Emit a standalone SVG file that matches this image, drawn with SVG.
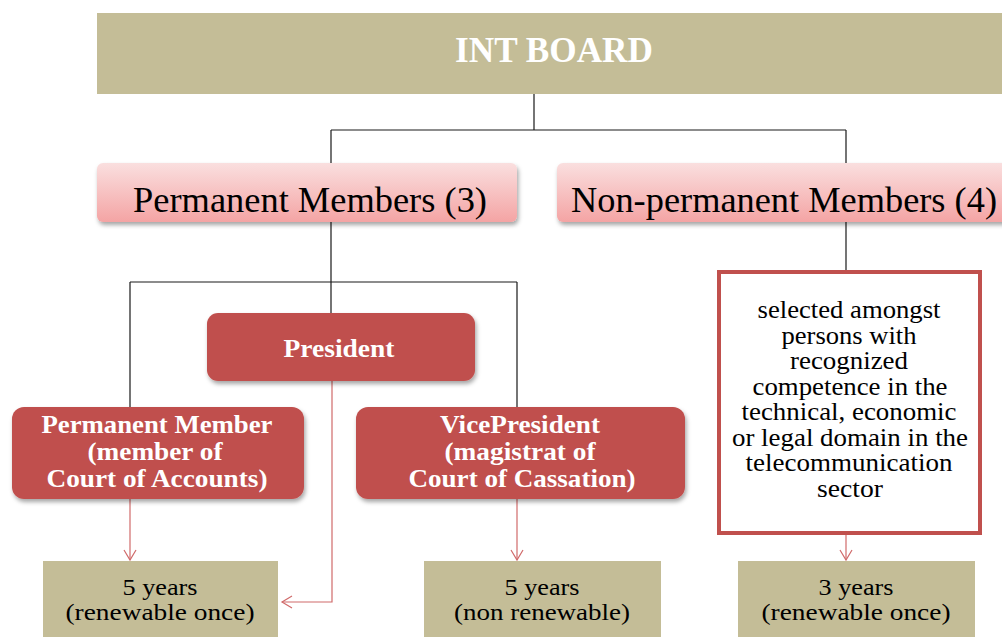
<svg xmlns="http://www.w3.org/2000/svg" width="1002" height="637" viewBox="0 0 1002 637">
<defs>
<linearGradient id="pink" x1="0" y1="0" x2="0" y2="1">
<stop offset="0" stop-color="#FADFDF"/>
<stop offset="1" stop-color="#F4A4A4"/>
</linearGradient>
<filter id="sh" x="-10%" y="-20%" width="120%" height="150%">
<feDropShadow dx="1.5" dy="3" stdDeviation="2" flood-color="#000" flood-opacity="0.35"/>
</filter>
<marker id="arr" markerWidth="14" markerHeight="14" refX="12" refY="7" orient="auto" markerUnits="userSpaceOnUse">
<path d="M2,1 L12,7 L2,13" fill="none" stroke="#D06A6A" stroke-width="1.2"/>
</marker>
<style>
.tan{fill:#C4BD97}
.pink{fill:url(#pink);filter:url(#sh)}
.red{fill:#C0504D;filter:url(#sh)}
.blk{fill:none;stroke:#1a1a1a;stroke-width:1.2}
.rl{fill:none;stroke:#D06A6A;stroke-width:1.2;marker-end:url(#arr)}
.serif{font-family:"Liberation Serif","Times New Roman",serif;text-anchor:middle}
.big{font-size:36px;fill:#000}
.wb{font-size:25px;font-weight:bold;fill:#fff}
.note{font-size:25px;fill:#000}
.yr{font-size:24px;fill:#000}
</style>
</defs>
<rect width="1002" height="637" fill="#fff"/>

<g id="connectors">
<path class="blk" d="M534,94 V130 M331,130 H846 M331,130 V163 M846,130 V163"/>
<path class="blk" d="M331,222 V313 M130,282 H517 M130,282 V407 M517,282 V407"/>
<path class="blk" d="M846,222 V270"/>
<path class="rl" d="M130,499 V560"/>
<path class="rl" d="M332,381 V602 H282"/>
<path class="rl" d="M517,499 V560"/>
<path class="rl" d="M846,535 V560"/>
</g>

<g id="int-board">
<rect class="tan" x="97" y="13" width="910" height="81"/>
<text class="serif" x="554" y="62" font-size="35" font-weight="bold" fill="#fff" textLength="198" lengthAdjust="spacingAndGlyphs">INT BOARD</text>
</g>

<g id="permanent-members">
<rect class="pink" x="97" y="163" width="420" height="59" rx="6"/>
<text class="serif big" x="310" y="212" textLength="354" lengthAdjust="spacingAndGlyphs">Permanent Members (3)</text>
</g>

<g id="non-permanent-members">
<rect class="pink" x="557" y="163" width="460" height="59" rx="6"/>
<text class="serif big" x="784" y="212" textLength="426" lengthAdjust="spacingAndGlyphs">Non-permanent Members (4)</text>
</g>

<g id="president">
<rect class="red" x="207" y="313" width="268" height="68" rx="11"/>
<text class="serif wb" x="339" y="357" textLength="111" lengthAdjust="spacingAndGlyphs">President</text>
</g>

<g id="permanent-member">
<rect class="red" x="12" y="407" width="292" height="92" rx="12"/>
<text class="serif wb" x="157" y="433" textLength="231" lengthAdjust="spacingAndGlyphs">Permanent Member</text>
<text class="serif wb" x="155" y="460" textLength="135" lengthAdjust="spacingAndGlyphs">(member of</text>
<text class="serif wb" x="157" y="487" textLength="221" lengthAdjust="spacingAndGlyphs">Court of Accounts)</text>
</g>

<g id="vice-president">
<rect class="red" x="356" y="407" width="329" height="92" rx="12"/>
<text class="serif wb" x="520" y="433" textLength="160" lengthAdjust="spacingAndGlyphs">VicePresident</text>
<text class="serif wb" x="520" y="460" textLength="151" lengthAdjust="spacingAndGlyphs">(magistrat of</text>
<text class="serif wb" x="522" y="487" textLength="227" lengthAdjust="spacingAndGlyphs">Court of Cassation)</text>
</g>

<g id="selection-criteria">
<rect x="719" y="272" width="261" height="261" fill="#fff" stroke="#C0504D" stroke-width="4"/>
<text class="serif note" x="849" y="318" textLength="183" lengthAdjust="spacingAndGlyphs">selected amongst</text>
<text class="serif note" x="849" y="343.5" textLength="135" lengthAdjust="spacingAndGlyphs">persons with</text>
<text class="serif note" x="849" y="369" textLength="118" lengthAdjust="spacingAndGlyphs">recognized</text>
<text class="serif note" x="850" y="394.5" textLength="195" lengthAdjust="spacingAndGlyphs">competence in the</text>
<text class="serif note" x="849" y="420" textLength="215" lengthAdjust="spacingAndGlyphs">technical, economic</text>
<text class="serif note" x="850" y="445.5" textLength="236" lengthAdjust="spacingAndGlyphs">or legal domain in the</text>
<text class="serif note" x="849" y="471" textLength="207" lengthAdjust="spacingAndGlyphs">telecommunication</text>
<text class="serif note" x="850" y="496.5" textLength="66" lengthAdjust="spacingAndGlyphs">sector</text>
</g>

<g id="term-permanent-member">
<rect class="tan" x="43" y="561" width="235" height="80"/>
<text class="serif yr" x="160" y="594.5" textLength="75" lengthAdjust="spacingAndGlyphs">5 years</text>
<text class="serif yr" x="160" y="620" textLength="189" lengthAdjust="spacingAndGlyphs">(renewable once)</text>
</g>

<g id="term-vice-president">
<rect class="tan" x="424" y="561" width="237" height="80"/>
<text class="serif yr" x="542" y="594.5" textLength="75" lengthAdjust="spacingAndGlyphs">5 years</text>
<text class="serif yr" x="542" y="620" textLength="176" lengthAdjust="spacingAndGlyphs">(non renewable)</text>
</g>

<g id="term-non-permanent">
<rect class="tan" x="738" y="561" width="237" height="80"/>
<text class="serif yr" x="856" y="594.5" textLength="75" lengthAdjust="spacingAndGlyphs">3 years</text>
<text class="serif yr" x="856" y="620" textLength="189" lengthAdjust="spacingAndGlyphs">(renewable once)</text>
</g>
</svg>
